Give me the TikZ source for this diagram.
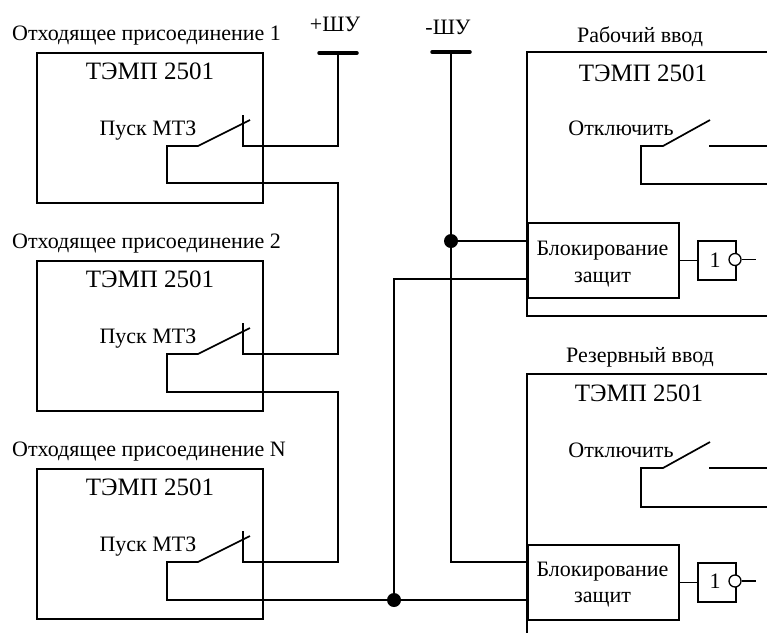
\documentclass[tikz,border=0pt]{standalone}
\usepackage{fontspec}
\setmainfont{Liberation Serif}
\tikzset{
  x=1pt,y=-1pt,
  wire/.style={line width=1.7pt,line join=miter},
  box/.style={draw,line width=1.7pt,inner sep=0pt,anchor=north west},
  title/.style={font=\fontsize{25}{27}\selectfont,anchor=base,inner sep=0pt},
  label/.style={font=\fontsize{22}{24}\selectfont,anchor=base,inner sep=0pt},
  busbar/.style={line width=3.5pt,line cap=round},
  jdot/.style={circle,fill=black,draw=none,minimum size=14pt,inner sep=0pt},
  blockbox/.style={box,minimum width=151pt,minimum height=75pt,fill=white},
  logicbox/.style={box,minimum width=38pt,minimum height=39pt},
  inv/.style={circle,draw,line width=1.3pt,fill=white,minimum size=12pt,inner sep=0pt},
  unit/.style={box,minimum width=226pt,minimum height=150pt}
}
\begin{document}
\begin{tikzpicture}
\useasboundingbox (0,0) rectangle (767,633);
\clip (0,0) rectangle (767,633);
% left units
\node[unit] (u1) at (36,52) {};
\node[unit] (u2) at (36,260) {};
\node[unit] (u3) at (36,468) {};
\node[label,anchor=base west] (l1) at (12,40) {Отходящее присоединение 1};
\node[label,anchor=base west] (l2) at (12,248) {Отходящее присоединение 2};
\node[label,anchor=base west] (l3) at (12,456) {Отходящее присоединение N};
\node[title] (t1) at (150,79) {ТЭМП 2501};
\node[title] (t2) at (150,287) {ТЭМП 2501};
\node[title] (t3) at (150,495) {ТЭМП 2501};
\node[label] (p1) at (148,135) {Пуск МТЗ};
\node[label] (p2) at (148,343) {Пуск МТЗ};
\node[label] (p3) at (148,551) {Пуск МТЗ};
% buses
\node[label] (plus) at (335,31) {+ШУ};
\node[label] (minus) at (448,34) {-ШУ};
\coordinate (pb) at (338,53);
\coordinate (mb) at (451,52);
\draw[busbar] (319,53) -- (357,53);
\draw[busbar] (432,52) -- (470,52);
% contacts, left
\coordinate (c1) at (243,146);
\coordinate (c2) at (243,354);
\coordinate (c3) at (243,562);
\draw[wire] (pb) -- (338,146) -- (c1) -- (243,115);
\draw[wire] (250,120) -- (198,146) -- (167,146) -- (167,183) -- (338,183) -- (338,354) -- (c2) -- (243,323);
\draw[wire] (250,328) -- (198,354) -- (167,354) -- (167,392) -- (338,392) -- (338,562) -- (c3) -- (243,531);
\draw[wire] (250,536) -- (198,562) -- (167,562) -- (167,600) -- (527,600);
% right units
\draw[wire] (767,52) -- (527,52) -- (527,316) -- (767,316);
\draw[wire] (767,374) -- (527,374) -- (527,633);
\node[label] (r1) at (640,42) {Рабочий ввод};
\node[label] (r2) at (640,362) {Резервный ввод};
\node[title] (t4) at (643,81) {ТЭМП 2501};
\node[title] (t5) at (639,401) {ТЭМП 2501};
\node[label] (o1) at (621,135) {Отключить};
\node[label] (o2) at (621,457) {Отключить};
\draw[wire] (709,146) -- (767,146);
\draw[wire] (710,120) -- (663,146) -- (641,146) -- (641,184) -- (767,184);
\draw[wire] (709,468) -- (767,468);
\draw[wire] (710,442) -- (663,468) -- (641,468) -- (641,507) -- (767,507);
% blocks
\node[blockbox] (b1) at (527,222) {};
\node[blockbox] (b2) at (527,544) {};
\node[label] (bt1) at (602.5,255) {Блокирование};
\node[label] (bz1) at (602.5,282) {защит};
\node[label] (bt2) at (602.5,576) {Блокирование};
\node[label] (bz2) at (602.5,602) {защит};
\node[logicbox] (g1) at (697,240) {};
\node[logicbox] (g2) at (697,562) {};
\node[label] (n1) at (715,267) {1};
\node[label] (n2) at (715,588) {1};
\node[inv] (i1) at (735,259.5) {};
\node[inv] (i2) at (735,581) {};
\coordinate (e1) at (756,259.5);
\coordinate (e2) at (756,581);
\draw[wire] (b1.east) -- (g1.west);
\draw[wire] (b2.east) -- (g2.west);
\draw[wire] (i1.east) -- (e1);
\draw[wire] (i2.east) -- (e2);
% common wires
\node[jdot] (d1) at (451,241) {};
\node[jdot] (d2) at (394,600) {};
\draw[wire] (mb) -- (451,562) -- (527,562);
\draw[wire] (d1) -- (527,241);
\draw[wire] (d2) -- (394,279) -- (527,279);
\end{tikzpicture}
\end{document}
